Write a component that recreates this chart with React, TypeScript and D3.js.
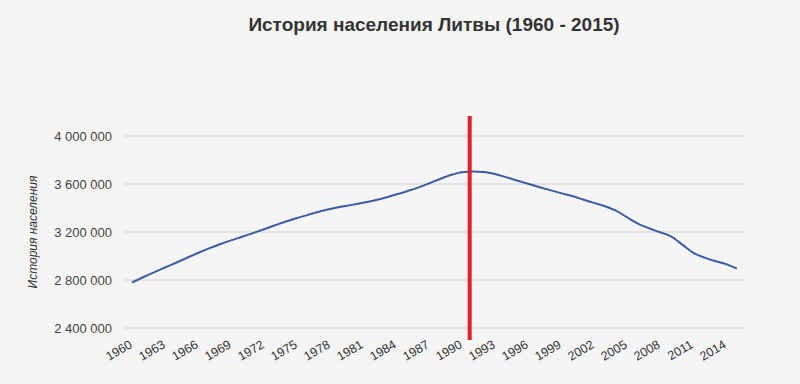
import React from "react";
import * as d3 from "d3";

const years: number[] = d3.range(1960, 2016);
const population: number[] = [
  2779000, 2823000, 2864000, 2904000, 2944000, 2985000, 3025000, 3063000, 3098000, 3130000,
  3160000, 3191000, 3223000, 3256000, 3288000, 3317000, 3343000, 3369000, 3391000, 3411000,
  3426000, 3443000, 3463000, 3486000, 3512000, 3540000, 3570000, 3605000, 3642000, 3675000,
  3698000, 3704000, 3700000, 3683000, 3657000, 3629000, 3602000, 3575000, 3549000, 3524000,
  3500000, 3471000, 3443000, 3415000, 3378000, 3323000, 3270000, 3231000, 3198000, 3163000,
  3097000, 3028000, 2988000, 2958000, 2932000, 2895000,
];
const yTicks: number[] = [2400000, 2800000, 3200000, 3600000, 4000000];
const xTickYears: number[] = d3.range(1960, 2016, 3);
const markerYear = 1990.7;
const title = "История населения Литвы (1960 - 2015)";
const yAxisTitle = "История населения";

export default function App() {
  const W = 800;
  const H = 384;
  const x = d3.scaleLinear().domain([1960, 2015]).range([132, 737]);
  const y = d3.scaleLinear().domain([2400000, 4000000]).range([328, 136]);
  const fmt = (v: number) => d3.format(",")(v).replace(/,/g, " ");
  const line = d3
    .line<number>()
    .x((_, i) => x(years[i]))
    .y((d) => y(d))
    .curve(d3.curveMonotoneX);
  const font = "'Liberation Sans', Arial, sans-serif";
  return (
    <svg
      width={W}
      height={H}
      style={{ position: "absolute", left: 0, top: 0 }}
      fontFamily={font}
    >
      <rect x={0} y={0} width={W} height={H} fill="#f5f5f5" />
      <text x={434} y={31} textAnchor="middle" fontSize={19} fontWeight="bold" fill="#333">
        {title}
      </text>
      {yTicks.map((t) => (
        <g key={t}>
          <line x1={125} x2={744} y1={y(t)} y2={y(t)} stroke="#dcdcdc" strokeWidth={1.5} />
          <text x={112} y={y(t)} dy="0.35em" textAnchor="end" fontSize={13} fill="#444">
            {fmt(t)}
          </text>
        </g>
      ))}
      <text
        transform={`translate(37,232) rotate(-90)`}
        textAnchor="middle"
        fontSize={12}
        fontStyle="italic"
        fill="#333"
      >
        {yAxisTitle}
      </text>
      {xTickYears.map((yr) => (
        <text
          key={yr}
          transform={`translate(${x(yr) + 1},347) rotate(-30)`}
          textAnchor="end"
          fontSize={12.5}
          fill="#333"
        >
          {yr}
        </text>
      ))}
      <path d={line(population) || ""} fill="none" stroke="#3a5ba8" strokeWidth={2} />
      <line
        x1={x(markerYear)}
        x2={x(markerYear)}
        y1={116}
        y2={340}
        stroke="#e0202a"
        strokeWidth={4}
      />
    </svg>
  );
}
